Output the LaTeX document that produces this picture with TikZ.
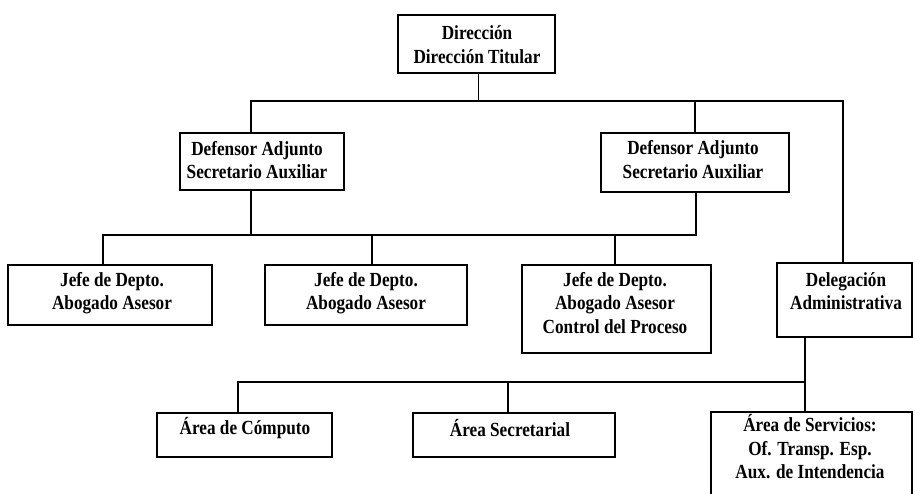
\documentclass[tikz,border=0pt]{standalone}
\usepackage{fontspec}
\setmainfont{Liberation Serif}[FakeStretch=0.86]
\begin{document}
\begin{tikzpicture}[x=1pt,y=-1pt,
  box/.style={draw=black, line width=1.4pt, rectangle, inner sep=0pt, fill=none},
  txt/.style={align=center, inner sep=0pt, font=\bfseries\fontsize{20}{23.5}\selectfont},
  conn/.style={draw=black, line width=1.4pt}]
\clip (0,0) rectangle (915,494);
\fill[white] (0,0) rectangle (915,494);
% boxes
\node[box, minimum width=157pt, minimum height=58pt] (dir) at (476.5,44) {};
\node[box, minimum width=164pt, minimum height=57pt] (def1) at (262,161.5) {};
\node[box, minimum width=188pt, minimum height=59pt] (def2) at (695,162.5) {};
\node[box, minimum width=204pt, minimum height=60pt] (j1) at (110,295) {};
\node[box, minimum width=202pt, minimum height=60pt] (j2) at (366,295) {};
\node[box, minimum width=189pt, minimum height=88pt] (j3) at (616.5,309) {};
\node[box, minimum width=135pt, minimum height=74pt] (del) at (844.5,300) {};
\node[box, minimum width=175pt, minimum height=44pt] (a1) at (244.5,435) {};
\node[box, minimum width=202pt, minimum height=44pt] (a2) at (514,435) {};
\node[box, minimum width=201pt, minimum height=110pt] (a3) at (811.5,467) {};
% texts
\node[txt] (dirt) at (477,44.5) {Dirección\\Dirección Titular};
\node[txt] (def1t) at (257,160) {Defensor Adjunto\\Secretario Auxiliar};
\node[txt] (def2t) at (693,159.5) {Defensor Adjunto\\Secretario Auxiliar};
\node[txt] (j1t) at (112,293) {Jefe de Depto.\\Abogado Asesor};
\node[txt] (j2t) at (366,293) {Jefe de Depto.\\Abogado Asesor};
\node[txt] (j3t) at (615,303) {Jefe de Depto.\\Abogado Asesor\\Control del Proceso};
\node[txt] (delt) at (846,291) {Delegación\\Administrativa};
\node[txt] (a1t) at (245,428) {Área de Cómputo};
\node[txt] (a2t) at (510,428) {Área Secretarial};
\node[txt] (a3t) at (810,447) {Área de Servicios:\\Of. Transp. Esp.\\Aux. de Intendencia};
% junctions
\coordinate (ta) at (251,101);
\coordinate (tb) at (843,101);
\coordinate (ma) at (103,235);
\coordinate (m2) at (372,235);
\coordinate (m3) at (615,235);
\coordinate (mb) at (696,235);
\coordinate (ba) at (238,382);
\coordinate (bb) at (508,382);
\coordinate (bc) at (805,382);
% connectors
\draw[conn] ([xshift=2pt]dir.south) -- ([xshift=2pt]dir.south |- ta);
\draw[conn] (def1.north -| ta) -- (ta) -- (tb) -- (del.north -| tb);
\draw[conn] (def2.north) -- (def2.north |- ta);
\draw[conn] (def1.south -| ta) -- (ta |- ma);
\draw[conn] (j1.north -| ma) -- (ma) -- (mb) -- (def2.south -| mb);
\draw[conn] (j2.north -| m2) -- (m2);
\draw[conn] (j3.north -| m3) -- (m3);
\draw[conn] (a1.north -| ba) -- (ba) -- (bc);
\draw[conn] (del.south -| bc) -- (a3.north -| bc);
\draw[conn] (a2.north -| bb) -- (bb);
\end{tikzpicture}
\end{document}
